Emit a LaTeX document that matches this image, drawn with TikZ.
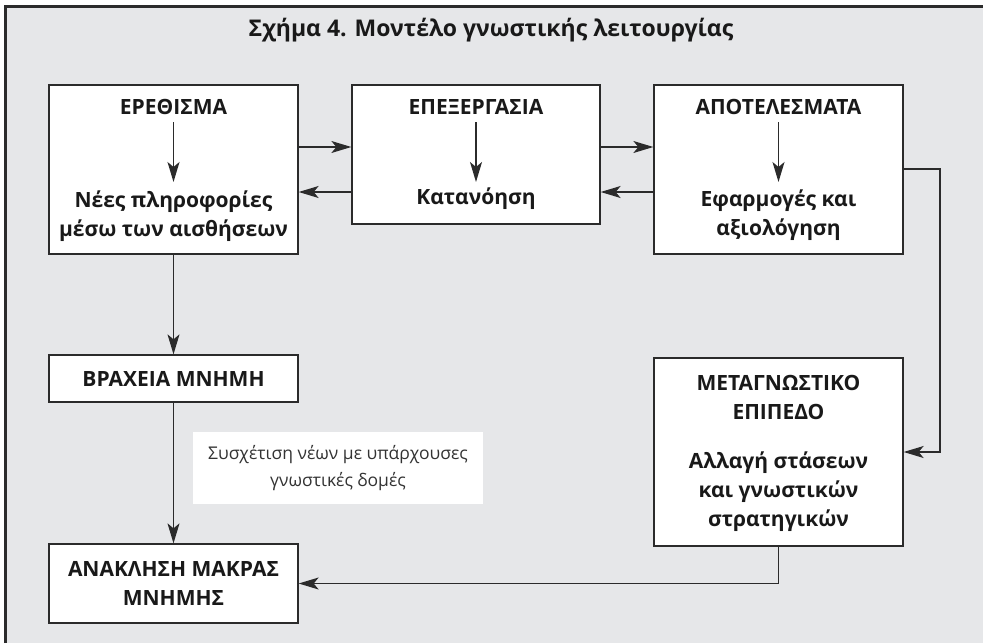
\documentclass[tikz,border=0pt]{standalone}
\usepackage{fontspec}
\setmainfont{Open Sans}
\usetikzlibrary{arrows.meta,calc}
\definecolor{bggray}{HTML}{E6E7E9}
\definecolor{linedark}{HTML}{2B2B2B}
\tikzset{
  box/.style={draw=linedark,line width=1.3pt,fill=white,rectangle,inner sep=0pt},
  boldtxt/.style={font=\fontsize{21}{29}\selectfont\bfseries,text=black!90,align=center,inner sep=0pt},
  lighttxt/.style={font=\fontsize{17.5}{27}\selectfont,text=black!80,align=center,inner sep=0pt},
  arr/.style={draw=linedark,line width=1.3pt,-{Stealth[length=20pt,width=12pt,inset=5pt]}},
  conn/.style={draw=linedark,line width=1.3pt}
}
\begin{document}
\begin{tikzpicture}[x=1pt,y=-1pt]
\useasboundingbox (0,0) rectangle (983,643);
\fill[bggray] (4,5) rectangle (983,643);
\draw[linedark,line width=2.5pt] (5.25,643) -- (5.25,6.25) -- (983,6.25);

\node[boldtxt,font=\fontsize{23}{28}\selectfont\bfseries] (title) at (491,30) {Σχήμα 4. Μοντέλο γνωστικής λειτουργίας};

% boxes
\node[box,minimum width=249pt,minimum height=169pt] (A) at (173.5,169.5) {};
\node[box,minimum width=248pt,minimum height=139pt] (B) at (476,154.5) {};
\node[box,minimum width=249pt,minimum height=169pt] (C) at (778.5,169.5) {};
\node[box,minimum width=249pt,minimum height=47pt] (R) at (173.5,378.5) {};
\node[box,minimum width=249pt,minimum height=79pt] (N) at (173.5,583.5) {};
\node[box,minimum width=249pt,minimum height=188pt] (M) at (778.5,452) {};
\node[fill=white,minimum width=290pt,minimum height=72pt,inner sep=0pt] (L) at (338,468) {};

% texts
\node[boldtxt] (At) at (173.5,107) {ΕΡΕΘΙΣΜΑ};
\node[boldtxt] (As) at (173.5,216) {Νέες πληροφορίες\\μέσω των αισθήσεων};
\node[boldtxt] (Bt) at (476,107) {ΕΠΕΞΕΡΓΑΣΙΑ};
\node[boldtxt] (Bs) at (476,199) {Κατανόηση};
\node[boldtxt] (Ct) at (778.5,107) {ΑΠΟΤΕΛΕΣΜΑΤΑ};
\node[boldtxt] (Cs) at (778.5,215) {Εφαρμογές και\\αξιολόγηση};
\node[boldtxt] (Rt) at (R) {ΒΡΑΧΕΙΑ ΜΝΗΜΗ};
\node[boldtxt] (Nt) at (N) {ΑΝΑΚΛΗΣΗ ΜΑΚΡΑΣ\\ΜΝΗΜΗΣ};
\node[boldtxt] (Mt) at (778.5,397) {ΜΕΤΑΓΝΩΣΤΙΚΟ\\ΕΠΙΠΕΔΟ};
\node[boldtxt] (Ms) at (778.5,492) {Αλλαγή στάσεων\\και γνωστικών\\στρατηγικών};
\node[lighttxt] (Lt) at (L) {Συσχέτιση νέων με υπάρχουσες\\γνωστικές δομές};

% inner arrows
\coordinate (a1) at (173.5,122); \coordinate (a2) at (173.5,182);
\coordinate (b1) at (476,122);   \coordinate (b2) at (476,182);
\coordinate (c1) at (778.5,122); \coordinate (c2) at (778.5,182);
\draw[arr] (a1) -- (a2);
\draw[arr] (b1) -- (b2);
\draw[arr] (c1) -- (c2);

% horizontal arrows
\draw[arr] (A.east |- 0,147) -- (B.west |- 0,147);
\draw[arr] (B.west |- 0,192) -- (A.east |- 0,192);
\draw[arr] (B.east |- 0,147) -- (C.west |- 0,147);
\draw[arr] (C.west |- 0,192) -- (B.east |- 0,192);

% C -> M
\coordinate (cm) at (940,169);
\draw[arr] (C.east |- cm) -- (cm) |- (M.east |- 0,452);

% M -> N
\draw[arr] (M.south) |- (N.east);

% vertical chain
\draw[arr] (A.south) -- (R.north);
\draw[arr] (R.south) -- (N.north);
\end{tikzpicture}
\end{document}
